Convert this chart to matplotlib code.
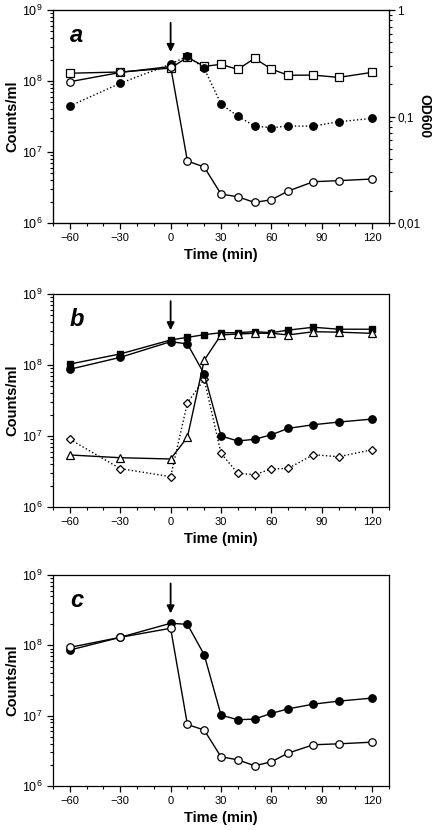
import matplotlib
matplotlib.use("Agg")
import matplotlib.pyplot as plt
from matplotlib.ticker import FixedLocator, FixedFormatter, LogLocator, NullFormatter

plt.rcParams['font.family'] = ['Liberation Sans', 'DejaVu Sans']

time = [-60, -30, 0, 10, 20, 30, 40, 50, 60, 70, 85, 100, 120]

# Panel a
a_od_squares = [0.255, 0.262, 0.285, 0.36, 0.296, 0.309, 0.277, 0.352, 0.279, 0.244, 0.245, 0.233, 0.26]
a_filled_dotted = [4.45e7, 9.3e7, 1.73e8, 2.25e8, 1.51e8, 4.74e7, 3.2e7, 2.32e7, 2.2e7, 2.32e7, 2.32e7, 2.67e7, 2.98e7]
a_open = [9.78e7, 1.32e8, 1.6e8, 7.47e6, 6.15e6, 2.56e6, 2.34e6, 1.95e6, 2.13e6, 2.82e6, 3.82e6, 3.95e6, 4.17e6]

# Panel b
b_filled_squares = [1.03e8, 1.43e8, 2.25e8, 2.45e8, 2.67e8, 2.85e8, 2.85e8, 2.95e8, 2.85e8, 3.1e8, 3.4e8, 3.19e8, 3.19e8]
b_open_triangles = [5.4e6, 4.94e6, 4.74e6, 9.6e6, 1.17e8, 2.65e8, 2.73e8, 2.8e8, 2.8e8, 2.65e8, 2.94e8, 2.9e8, 2.79e8]
b_filled_circles = [8.7e7, 1.28e8, 2.13e8, 1.98e8, 7.46e7, 1.0e7, 8.5e6, 8.98e6, 1.04e7, 1.28e7, 1.44e7, 1.57e7, 1.73e7]
b_open_diamonds = [8.98e6, 3.47e6, 2.67e6, 2.94e7, 6.28e7, 5.7e6, 2.98e6, 2.85e6, 3.43e6, 3.5e6, 5.45e6, 5.1e6, 6.4e6]

# Panel c
c_filled = [8.57e7, 1.3e8, 2.06e8, 1.99e8, 7.35e7, 1.02e7, 8.75e6, 8.95e6, 1.08e7, 1.25e7, 1.46e7, 1.61e7, 1.78e7]
c_open = [9.36e7, 1.3e8, 1.75e8, 7.5e6, 6.24e6, 2.6e6, 2.36e6, 1.94e6, 2.21e6, 2.94e6, 3.86e6, 3.98e6, 4.2e6]

xticks = [-60, -30, 0, 30, 60, 90, 120]
od_ticks = [1, 0.1, 0.01]
od_labels = ['1', '0,1', '0,01']
panel_letters = ['a', 'b', 'c']
arrows = [(8.82, 8.41), (8.90, 8.49), (8.88, 8.455)]

fig = plt.figure(figsize=(4.36, 8.30), dpi=100)
positions = [
    [0.1216, 0.7313, 0.7706, 0.2566],
    [0.1216, 0.3892, 0.7706, 0.2566],
    [0.1216, 0.0530, 0.7706, 0.2542],
]
axes = [fig.add_axes(p) for p in positions]

ms = 5.4
kw_open = dict(color='black', lw=1.0, marker='o', mfc='white', mec='black', mew=0.9, ms=ms)
kw_fill = dict(color='black', lw=1.0, marker='o', mfc='black', mec='black', mew=0.9, ms=ms)


def style(ax, letter, arr):
    ax.set_yscale('log')
    ax.set_ylim(1e6, 1e9)
    ax.set_xlim(-70, 130)
    ax.set_xticks(xticks)
    ax.xaxis.set_minor_locator(FixedLocator(list(range(-70, 131, 10))))
    ax.yaxis.set_minor_locator(LogLocator(base=10, subs=range(2, 10), numticks=20))
    ax.yaxis.set_minor_formatter(NullFormatter())
    ax.tick_params(axis='both', which='major', labelsize=8, direction='out', length=4, width=0.9)
    ax.tick_params(axis='both', which='minor', direction='out', length=2.5, width=0.8)
    ax.tick_params(axis='y', which='major', labelsize=9)
    for s in ax.spines.values():
        s.set_linewidth(0.9)
    ax.set_xlabel('Time (min)', fontsize=10.5, fontweight='bold', labelpad=3)
    ax.set_ylabel('Counts/ml', fontsize=10.5, fontweight='bold', labelpad=2)
    ax.text(0.05, 0.88, letter, transform=ax.transAxes, fontsize=17,
            fontweight='bold', fontstyle='italic', ha='left', va='center')
    ax.annotate('', xy=(0, 10 ** arr[1]), xytext=(0, 10 ** arr[0]),
                arrowprops=dict(arrowstyle='-|>', color='black', lw=1.3,
                                mutation_scale=11, shrinkA=0, shrinkB=0))


# Panel a
ax = axes[0]
style(ax, panel_letters[0], arrows[0])
axr = ax.twinx()
axr.set_yscale('log')
axr.set_ylim(0.01, 1)
axr.plot(time, a_od_squares, color='black', lw=1.0, marker='s', mfc='white', mec='black', mew=0.9, ms=ms)
axr.yaxis.set_major_locator(FixedLocator(od_ticks))
axr.yaxis.set_major_formatter(FixedFormatter(od_labels))
axr.yaxis.set_minor_locator(LogLocator(base=10, subs=range(2, 10), numticks=20))
axr.yaxis.set_minor_formatter(NullFormatter())
axr.tick_params(axis='y', which='major', labelsize=8.5, direction='out', length=4, width=0.9, pad=2)
axr.tick_params(axis='y', which='minor', direction='out', length=2.5, width=0.8)
axr.set_ylabel('OD600', fontsize=10, fontweight='bold', rotation=270, va='center', ha='center')
axr.yaxis.set_label_coords(1.105, 0.5)
ax.set_zorder(axr.get_zorder() + 1)
ax.patch.set_visible(False)
ax.plot(time, a_filled_dotted, **dict(kw_fill, ls=':'))
ax.plot(time, a_open, **kw_open)

# Panel b
ax = axes[1]
style(ax, panel_letters[1], arrows[1])
ax.plot(time, b_filled_squares, color='black', lw=1.0, marker='s', mfc='black', mec='black', ms=ms - 0.5)
ax.plot(time, b_open_triangles, color='black', lw=1.0, marker='^', mfc='white', mec='black', mew=0.9, ms=ms + 0.5)
ax.plot(time, b_open_diamonds, color='black', lw=1.0, ls=':', marker='D', mfc='white', mec='black', mew=0.9, ms=ms - 1)
ax.plot(time, b_filled_circles, **kw_fill)

# Panel c
ax = axes[2]
style(ax, panel_letters[2], arrows[2])
ax.plot(time, c_filled, **kw_fill)
ax.plot(time, c_open, **kw_open)

fig.savefig('out.png', dpi=100)
